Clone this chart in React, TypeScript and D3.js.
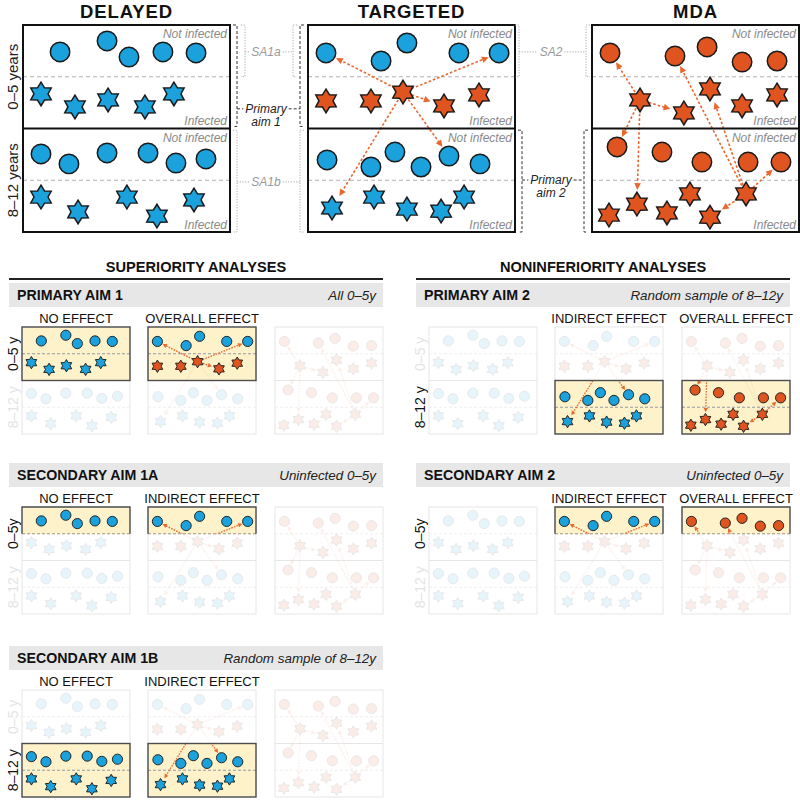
import React from "react";
import * as d3 from "d3";

type Pt = [number, number];

const BLUE = "#1ba1dc";
const ORANGE = "#e0541f";
const ARROW_C = "#e9682f";
const FONT = "'Liberation Sans', Arial, Helvetica, sans-serif";

// ---- data (panel units: 100 x 100; 0–5y half = 0–50, 8–12y half = 50–100) ----
const armTitles = ["DELAYED", "TARGETED", "MDA"];
const bigAgeLabels = ["0–5 years", "8–12 years"];
const halfLabels = ["Not infected", "Infected"];

const delayedCirclesTop: Pt[] = [[17.9, 13.0], [40.6, 7.7], [51.2, 15.5], [67.6, 13.0], [83.6, 13.5]];
const delayedStarsTop: Pt[] = [[8.7, 33.3], [25.1, 39.6], [41.1, 36.2], [58.9, 39.6], [72.9, 33.3]];
const delayedCirclesBottom: Pt[] = [[8.7, 62.3], [22.2, 67.1], [40.6, 61.8], [60.4, 61.8], [73.9, 66.7], [88.4, 64.7]];
const delayedStarsBottom: Pt[] = [[8.7, 83.1], [26.6, 90.3], [50.2, 83.1], [64.7, 92.3], [82.6, 84.5]];
const delayedArrows: [string, string][] = [];

const targetedCirclesTop: Pt[] = [[8.7, 13.5], [35.3, 17.4], [47.8, 8.7], [72.9, 13.5], [92.3, 13.5]];
const targetedStarsTop: Pt[] = [[8.7, 36.7], [30.4, 36.7], [45.9, 32.4], [65.7, 39.1], [82.6, 33.8]];
const targetedCirclesBottom: Pt[] = [[9.2, 65.2], [30.4, 68.6], [42.0, 61.4], [54.6, 68.6], [68.1, 63.3], [83.1, 67.1]];
const targetedStarsBottom: Pt[] = [[11.6, 88.4], [31.9, 83.1], [47.8, 88.9], [64.3, 89.9], [75.4, 83.1]];
const targetedArrows: [string, string][] = [["st2", "ct0"], ["st2", "ct4"], ["st2", "st3"], ["st2", "cb4"], ["st2", "sb0"]];

const mdaCirclesTop: Pt[] = [[8.7, 13.5], [40.1, 15.0], [55.6, 10.6], [72.5, 17.9], [89.4, 17.4]];
const mdaStarsTop: Pt[] = [[23.2, 36.2], [44.4, 42.5], [57.0, 30.9], [72.5, 39.1], [89.4, 33.8]];
const mdaCirclesBottom: Pt[] = [[12.1, 58.9], [33.8, 61.4], [53.1, 66.2], [75.4, 66.2], [91.3, 66.2]];
const mdaStarsBottom: Pt[] = [[8.2, 91.8], [21.7, 86.5], [36.2, 90.8], [47.3, 81.6], [57.0, 92.8], [74.4, 81.6]];
const mdaArrows: [string, string][] = [["st0", "ct0"], ["st0", "st1"], ["st0", "cb0"], ["st0", "sb1"], ["sb5", "ct1"], ["sb5", "st2"], ["sb5", "cb4"], ["sb5", "sb4"]];

const sectionTitles = ["SUPERIORITY ANALYSES", "NONINFERIORITY ANALYSES"];
const analysisTitles = ["PRIMARY AIM 1", "SECONDARY AIM 1A", "SECONDARY AIM 1B", "PRIMARY AIM 2", "SECONDARY AIM 2"];
const analysisNotes = ["All 0–5y", "Uninfected 0–5y", "Random sample of 8–12y", "Random sample of 8–12y", "Uninfected 0–5y"];
const analysisEffects = [
  ["NO EFFECT", "OVERALL EFFECT", ""],
  ["NO EFFECT", "INDIRECT EFFECT", ""],
  ["NO EFFECT", "INDIRECT EFFECT", ""],
  ["", "INDIRECT EFFECT", "OVERALL EFFECT"],
  ["", "INDIRECT EFFECT", "OVERALL EFFECT"],
];
const analysisRegions = ["top", "topNI", "bottom", "bottom", "topNI"];
const analysisActiveArms = [[0, 1], [0, 1], [0, 1], [1, 2], [1, 2]];
const analysisAgeLabels = [["0–5 y", "8–12 y"], ["0–5y", "8–12 y"], ["0–5 y", "8–12 y"], ["0–5 y", "8–12 y"], ["0–5y", "8–12 y"]];
const analysisCol = [0, 0, 0, 1, 1];
const analysisRow = [0, 1, 2, 0, 1];

const REGIONS: Record<string, [number, number]> = { top: [0, 50], topNI: [0, 25], bottom: [50, 100] };

const arms = [
  { title: armTitles[0], ct: delayedCirclesTop, cb: delayedCirclesBottom, st: delayedStarsTop, sb: delayedStarsBottom,
    colors: { ct: BLUE, cb: BLUE, st: BLUE, sb: BLUE }, arrows: delayedArrows },
  { title: armTitles[1], ct: targetedCirclesTop, cb: targetedCirclesBottom, st: targetedStarsTop, sb: targetedStarsBottom,
    colors: { ct: BLUE, cb: BLUE, st: ORANGE, sb: BLUE }, arrows: targetedArrows },
  { title: armTitles[2], ct: mdaCirclesTop, cb: mdaCirclesBottom, st: mdaStarsTop, sb: mdaStarsBottom,
    colors: { ct: ORANGE, cb: ORANGE, st: ORANGE, sb: ORANGE }, arrows: mdaArrows },
];

// ---- layout ----
const BIG = 207;
const BIG_X = [23, 308, 592];
const BIG_Y = 25;
const MINI_W = 108;
const MINI_H = 107;
const COL_X = [9, 416];
const BAND_W = 374;
const MINI_OFF = [13, 139, 266];
const ROW_TOP = [283, 463, 646];

type Node = { p: Pt; kind: "circle" | "star"; color: string };

function nodeMap(arm: any): Record<string, Node> {
  const m: Record<string, Node> = {};
  ["ct", "cb", "st", "sb"].forEach((key) => {
    (arm[key] as Pt[]).forEach((p, i) => {
      m[key + i] = { p, kind: key[0] === "c" ? "circle" : "star", color: arm.colors[key] };
    });
  });
  return m;
}

function starPath(cx: number, cy: number, R: number, r: number) {
  const pts: [number, number][] = d3.range(12).map((i) => {
    const a = -Math.PI / 2 + (i * Math.PI) / 6;
    const rad = i % 2 === 0 ? R : r;
    return [cx + rad * Math.cos(a), cy + rad * Math.sin(a)];
  });
  return (d3.line()(pts) as string) + "Z";
}

function Shape({ n, x, y, k }: any) {
  const cx = x(n.p[0]);
  const cy = y(n.p[1]);
  const sw = Math.max(0.72 * k, 0.9);
  if (n.kind === "circle") {
    return <circle cx={cx} cy={cy} r={4.7 * k} fill={n.color} stroke="#1a1a1a" strokeWidth={sw} />;
  }
  return <path d={starPath(cx, cy, 5.7 * k, 3.4 * k)} fill={n.color} stroke="#1a1a1a" strokeWidth={sw} strokeLinejoin="miter" />;
}

function Arrow({ from, to, x, y, k, big }: any) {
  const px = x(from.p[0]), py = y(from.p[1]);
  const qx = x(to.p[0]), qy = y(to.p[1]);
  const dx = qx - px, dy = qy - py;
  const len = Math.hypot(dx, dy);
  const ux = dx / len, uy = dy / len;
  const gap = (to.kind === "circle" ? 5.4 : 6.8) * k;
  const tx = qx - ux * gap, ty = qy - uy * gap;
  const L = big ? 3.3 * k : 3.9 * k;
  const W = big ? 1.6 * k : 2.0 * k;
  const bx = tx - ux * L, by = ty - uy * L;
  const head = `M${tx},${ty}L${bx - uy * W},${by + ux * W}L${bx + uy * W},${by - ux * W}Z`;
  const sw = big ? 1.6 : 1.25;
  const dash = big ? "2.6 2" : "1.6 1.2";
  return (
    <g>
      <line x1={px} y1={py} x2={bx + ux * 0.3 * k} y2={by + uy * 0.3 * k} stroke={ARROW_C} strokeWidth={sw} strokeDasharray={dash} />
      <path d={head} fill={ARROW_C} />
    </g>
  );
}

function Panel({ arm, x0, y0, w, h, big, region, pid }: any) {
  const x = d3.scaleLinear().domain([0, 100]).range([x0, x0 + w]);
  const y = d3.scaleLinear().domain([0, 100]).range([y0, y0 + h]);
  const k = w / 100;
  const m = nodeMap(arm);
  const content = (ok: (n: Node) => boolean) => (
    <g>
      {arm.arrows.filter((a: [string, string]) => ok(m[a[1]])).map(([f, t]: [string, string], i: number) => (
        <Arrow key={i} from={m[f]} to={m[t]} x={x} y={y} k={k} big={big} />
      ))}
      {Object.entries(m).filter(([, n]) => ok(n)).map(([id, n]) => <Shape key={id} n={n} x={x} y={y} k={k} />)}
    </g>
  );
  const all = () => true;

  if (big) {
    return (
      <g>
        {[25, 75].map((v) => (
          <line key={v} x1={x(0)} x2={x(100)} y1={y(v)} y2={y(v)} stroke="#b0b0b0" strokeWidth={1} strokeDasharray="4 3" />
        ))}
        {content(all)}
        {[0, 50].map((v) => (
          <g key={v} fontStyle="italic" fontSize={12} fill="#8a8a8a" textAnchor="end">
            <text x={x(100) - 3} y={y(v) + 13}>{halfLabels[0]}</text>
            <text x={x(100) - 3} y={y(v + 50) - 3.5}>{halfLabels[1]}</text>
          </g>
        ))}
        <rect x={x0} y={y0} width={w} height={h} fill="none" stroke="#111" strokeWidth={2} />
        <line x1={x(0)} x2={x(100)} y1={y(50)} y2={y(50)} stroke="#111" strokeWidth={2} />
      </g>
    );
  }

  const reg = region ? REGIONS[region] : null;
  const inReg = (n: Node) => !!reg && n.p[1] >= reg[0] && n.p[1] <= reg[1];
  return (
    <g>
      {reg && <rect x={x0} y={y(reg[0])} width={w} height={y(reg[1]) - y(reg[0])} fill="#fdf2c9" />}
      <rect x={x0} y={y0} width={w} height={h} fill="none" stroke="#e6e6e6" strokeWidth={1} />
      <line x1={x(0)} x2={x(100)} y1={y(50)} y2={y(50)} stroke="#e6e6e6" strokeWidth={1} />
      {[25, 75].map((v) => (
        <line key={v} x1={x(0)} x2={x(100)} y1={y(v)} y2={y(v)} stroke="#efefef" strokeWidth={1} strokeDasharray="3 2" />
      ))}
      <g opacity={0.1}>{content(all)}</g>
      {reg && (
        <g>
          <clipPath id={pid}>
            <rect x={x0} y={y(reg[0])} width={w} height={y(reg[1]) - y(reg[0])} />
          </clipPath>
          <g clipPath={`url(#${pid})`}>
            {[25, 75].filter((v) => v > reg[0] && v < reg[1]).map((v) => (
              <line key={v} x1={x(0)} x2={x(100)} y1={y(v)} y2={y(v)} stroke="#9a9a9a" strokeWidth={1} strokeDasharray="3 2" />
            ))}
            {content(inReg)}
          </g>
          {region === "topNI" ? (
            <g>
              <line x1={x(0)} x2={x(100)} y1={y(25)} y2={y(25)} stroke="#a8957a" strokeWidth={1} strokeDasharray="3 2" />
              <path d={`M${x(0)},${y(25)}V${y(0)}H${x(100)}V${y(25)}`} fill="none" stroke="#4d4d4d" strokeWidth={1.4} />
            </g>
          ) : (
            <rect x={x0} y={y(reg[0])} width={w} height={y(reg[1]) - y(reg[0])} fill="none" stroke="#4d4d4d" strokeWidth={1.4} />
          )}
        </g>
      )}
    </g>
  );
}

let _ctx: CanvasRenderingContext2D | null = null;
function textWidth(s: string, font: string) {
  if (!_ctx) _ctx = document.createElement("canvas").getContext("2d");
  if (!_ctx) return s.length * 6;
  _ctx.font = font;
  return _ctx.measureText(s).width;
}

function Bracket({ x, y1, y2, dir, dark }: any) {
  const t = 4 * dir;
  return (
    <path d={`M${x + t},${y1}H${x}V${y2}H${x + t}`} fill="none" stroke={dark ? "#333" : "#aaa"} strokeWidth={1}
      strokeDasharray={dark ? "3 2" : "1.2 1.5"} />
  );
}

// annotations between top panels (y in panel units via big scale)
const annotations = [
  { lines: ["SA1a"], dark: false, cx: 266, cyU: 13.0, lx: 245, rx: 293, y1: 0, y2: 25 },
  { lines: ["Primary", "aim 1"], dark: true, cx: 266, cyU: 40.5, lx: 237, rx: 300, y1: 0, y2: 49 },
  { lines: ["SA1b"], dark: false, cx: 266, cyU: 75.8, lx: 237, rx: 300, y1: 50.8, y2: 100 },
  { lines: ["SA2"], dark: false, cx: 551, cyU: 13.0, lx: 519, rx: 586, y1: 0, y2: 25 },
  { lines: ["Primary", "aim 2"], dark: true, cx: 551, cyU: 74.9, lx: 522, rx: 584, y1: 50.8, y2: 100 },
];

export default function App() {
  const yBig = d3.scaleLinear().domain([0, 100]).range([BIG_Y, BIG_Y + BIG]);
  return (
    <svg width={800} height={801} style={{ position: "absolute", left: 0, top: 0, background: "#fff" }} fontFamily={FONT}>
      <rect x={0} y={0} width={800} height={801} fill="#fff" />
      {arms.map((arm, i) => (
        <g key={i}>
          <text x={BIG_X[i] + BIG / 2} y={18} textAnchor="middle" fontSize={18.5} fontWeight="bold" letterSpacing={0.9} fill="#111">
            {arm.title}
          </text>
          <Panel arm={arm} x0={BIG_X[i]} y0={BIG_Y} w={BIG} h={BIG} big pid={`big${i}`} />
        </g>
      ))}
      {bigAgeLabels.map((s, i) => (
        <text key={s} transform={`translate(${18},${yBig(25 + i * 50)}) rotate(-90)`} textAnchor="middle" fontSize={15} fill="#222">
          {s}
        </text>
      ))}
      {annotations.map((a, i) => {
        const font = `italic 12px ${FONT}`;
        const tw = textWidth(a.lines[0], font);
        const cy = yBig(a.cyU);
        const col = a.dark ? "#222" : "#999";
        const dash = a.dark ? "3 2" : "1.2 1.5";
        return (
          <g key={i}>
            <Bracket x={a.lx} y1={yBig(a.y1)} y2={yBig(a.y2)} dir={-1} dark={a.dark} />
            <Bracket x={a.rx} y1={yBig(a.y1)} y2={yBig(a.y2)} dir={1} dark={a.dark} />
            <line x1={a.lx} x2={a.cx - tw / 2 - 2} y1={cy} y2={cy} stroke={a.dark ? "#333" : "#aaa"} strokeDasharray={dash} />
            <line x1={a.cx + tw / 2 + 2} x2={a.rx} y1={cy} y2={cy} stroke={a.dark ? "#333" : "#aaa"} strokeDasharray={dash} />
            {a.lines.map((l, j) => (
              <text key={j} x={a.cx} y={cy + 4 + j * 13} textAnchor="middle" fontSize={12} fontStyle="italic" fill={col}>
                {l}
              </text>
            ))}
          </g>
        );
      })}

      {sectionTitles.map((s, c) => (
        <g key={s}>
          <text x={COL_X[c] + BAND_W / 2} y={271.5} textAnchor="middle" fontSize={14.6} fontWeight="bold" fill="#111">{s}</text>
          <line x1={COL_X[c]} x2={COL_X[c] + BAND_W} y1={279} y2={279} stroke="#222" strokeWidth={2} />
        </g>
      ))}

      {analysisTitles.map((title, ai) => {
        const c = analysisCol[ai];
        const top = ROW_TOP[analysisRow[ai]];
        const bx = COL_X[c];
        const region = analysisRegions[ai];
        const activeAge = region === "bottom" ? 1 : 0;
        const py = top + 44;
        const yMini = d3.scaleLinear().domain([0, 100]).range([py, py + MINI_H]);
        return (
          <g key={title}>
            <rect x={bx} y={top} width={BAND_W} height={24} fill="#e7e7e7" />
            <text x={bx + 8} y={top + 17} fontSize={14.2} fontWeight="bold" fill="#111">{title}</text>
            <text x={bx + BAND_W - 7} y={top + 17} fontSize={13.4} fontStyle="italic" textAnchor="end" fill="#222">
              {analysisNotes[ai]}
            </text>
            {analysisAgeLabels[ai].map((s, j) => (
              <text key={j} transform={`translate(${bx + 9},${yMini(25 + j * 50)}) rotate(-90)`} textAnchor="middle"
                fontSize={14} fill={j === activeAge ? "#111" : "#e4e4e4"}>
                {s}
              </text>
            ))}
            {arms.map((arm, i) => {
              const px = bx + MINI_OFF[i];
              const active = analysisActiveArms[ai].includes(i);
              return (
                <g key={i}>
                  {analysisEffects[ai][i] && (
                    <text x={px + MINI_W / 2} y={top + 40} textAnchor="middle" fontSize={13} fill="#111">
                      {analysisEffects[ai][i]}
                    </text>
                  )}
                  <Panel arm={arm} x0={px} y0={py} w={MINI_W} h={MINI_H} region={active ? region : null} pid={`clip${ai}_${i}`} />
                </g>
              );
            })}
          </g>
        );
      })}
    </svg>
  );
}
